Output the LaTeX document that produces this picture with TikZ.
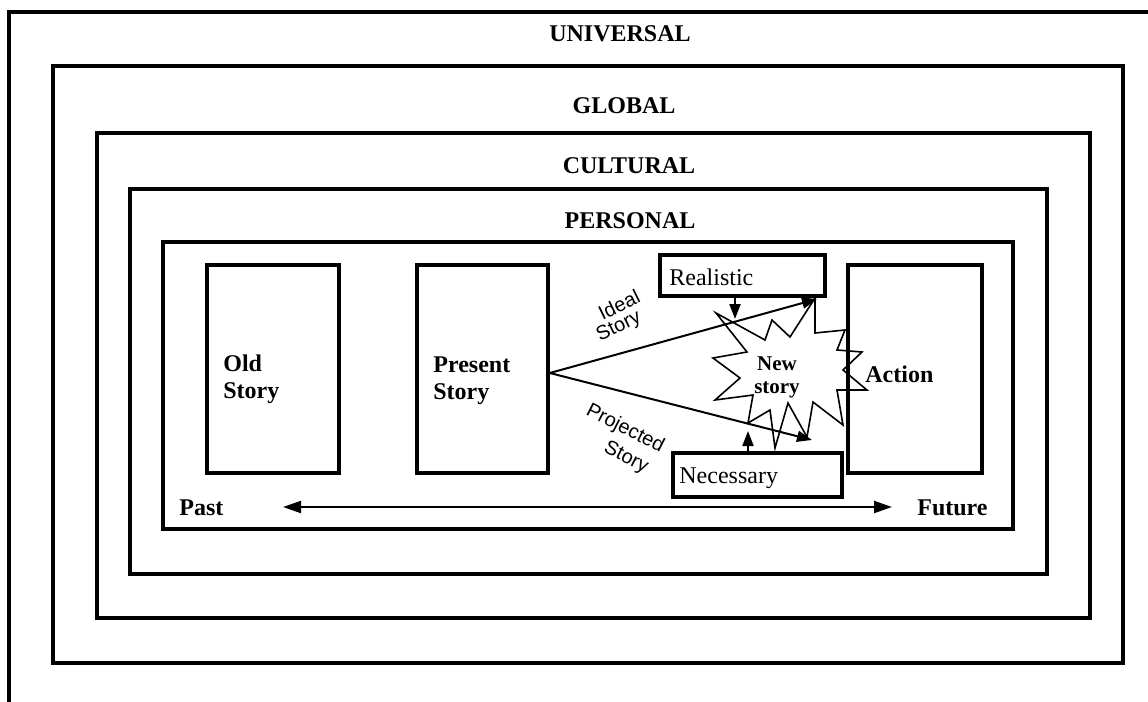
\documentclass[tikz,border=0pt]{standalone}
\usepackage{fontspec}
\setmainfont{Liberation Serif}
\newfontfamily\labelsans{Liberation Sans}
\usetikzlibrary{arrows.meta,fit}
\begin{document}
\begin{tikzpicture}[x=0.5pt,y=-0.5pt,
  frame/.style={line width=2pt},
  storybox/.style={draw, line width=1.8pt, inner sep=0pt},
  tagbox/.style={draw, line width=2pt, fill=white, inner sep=0pt},
  level/.style={font=\bfseries\fontsize{12}{14}\selectfont, anchor=base, inner sep=0pt},
  boxtext/.style={font=\bfseries\fontsize{12}{13.5}\selectfont, anchor=base west, inner sep=0pt},
  plaintext/.style={font=\fontsize{12}{14}\selectfont, anchor=base west, inner sep=0pt},
  bursttext/.style={font=\bfseries\fontsize{10.5}{11.5}\selectfont, anchor=base, inner sep=0pt},
  slant/.style={font=\labelsans\fontsize{10}{11}\selectfont, inner sep=0pt},
  link/.style={line width=1pt, -{Triangle[length=7.5pt,width=5.5pt]}},
  timeline/.style={line width=1pt, {Triangle[length=9pt,width=6pt]}-{Triangle[length=9pt,width=6pt]}},
  burst/.style={line width=0.8pt, line join=miter}
]
\useasboundingbox (0,0) rectangle (1148,702);

% nested context frames
\draw[frame] (9,702) -- (9,12) -- (1148,12);
\draw[frame] (53,66) rectangle (1123,663);
\draw[frame] (97,133) rectangle (1090,618);
\draw[frame] (130,189) rectangle (1047,574);
\draw[frame] (163,242) rectangle (1013,529);

% level titles
\node[level] (universal) at (620,41) {UNIVERSAL};
\node[level] (global) at (624,113) {GLOBAL};
\node[level] (cultural) at (629,173) {CULTURAL};
\node[level] (personal) at (630,228) {PERSONAL};

% story boxes
\node[storybox, fit={(207,265)(339,473)}] (old) {};
\node[storybox, fit={(417,265)(548,473)}] (present) {};
\node[storybox, fit={(848,265)(982,473)}] (action) {};

\node[boxtext] (oldA) at (223,371) {Old};
\node[boxtext] (oldB) at (223,398) {Story};
\node[boxtext] (presentA) at (433,372) {Present};
\node[boxtext] (presentB) at (433,399) {Story};
\node[boxtext] (actionA) at (865,382) {Action};

% the new story burst
\draw[burst] (716,313) -- (765,340) -- (772,320) -- (790,337) -- (815,298)
  -- (815,333) -- (845,330) -- (837,350) -- (862,352) -- (843,370)
  -- (867,390) -- (837,390) -- (843,425) -- (813,402) -- (807,437)
  -- (788,403) -- (775,448) -- (770,410) -- (748,423) -- (753,395)
  -- (715,400) -- (740,378) -- (713,358) -- (747,352) -- cycle;
\node[bursttext] (newA) at (777,370) {New};
\node[bursttext] (newB) at (777,393) {story};

% constraint boxes
\node[tagbox, fit={(660,255)(825,296)}] (realistic) {};
\node[plaintext] (realText) at (669,285) {Realistic};
\node[tagbox, fit={(673,453)(842,497)}] (necessary) {};
\node[plaintext] (needText) at (679,483) {Necessary};

% story projections
\coordinate (idealEnd) at (817,299);
\coordinate (projEnd) at (812,440);
\draw[link] ([yshift=-2pt]present.east) -- (idealEnd);
\draw[link] ([yshift=-2pt]present.east) -- (projEnd);

\coordinate (realTip) at (735,319);
\coordinate (needTip) at (748,431);
\draw[link] (realistic.south -| realTip) -- (realTip);
\draw[link] (necessary.north -| needTip) -- (needTip);

\node[slant, rotate=26] (idealA) at (619,305) {Ideal};
\node[slant, rotate=26] (idealB) at (619,327) {Story};
\node[slant, rotate=-27] (projA) at (625,429) {Projected};
\node[slant, rotate=-27] (projB) at (626,458) {Story};

% time axis
\node[boxtext] (past) at (179,515) {Past};
\node[boxtext] (future) at (917,515) {Future};
\coordinate (pastTip) at (283,507);
\coordinate (futureTip) at (892,507);
\draw[timeline] (pastTip) -- (futureTip);
\end{tikzpicture}
\end{document}
